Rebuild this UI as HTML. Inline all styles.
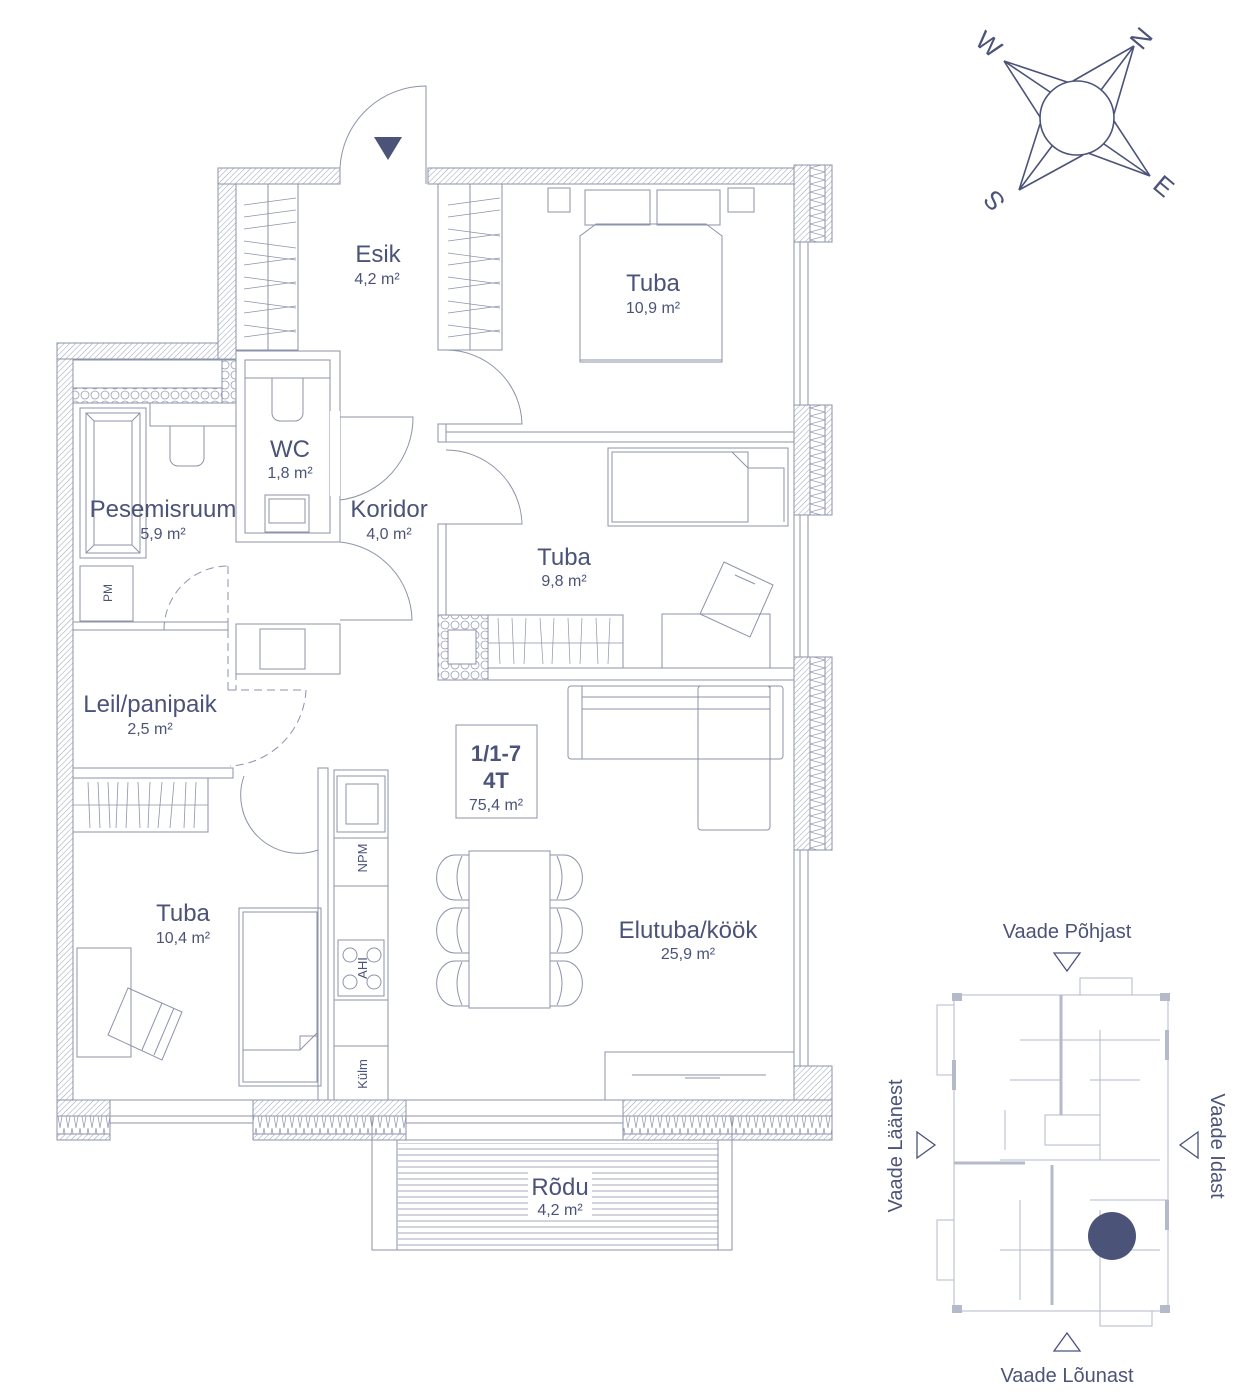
<!DOCTYPE html>
<html><head><meta charset="utf-8"><style>
html,body{margin:0;padding:0;background:#fff}
svg{display:block}
text{font-family:"Liberation Sans",sans-serif;fill:#4b5379}
</style></head><body>
<svg width="1246" height="1400" viewBox="0 0 1246 1400" xmlns="http://www.w3.org/2000/svg">
<defs>
<pattern id="h" width="4" height="4" patternUnits="userSpaceOnUse" patternTransform="rotate(45)">
<rect width="4" height="4" fill="#fff"/><line x1="0" y1="0" x2="0" y2="4" stroke="#9aa0b6" stroke-width="1"/></pattern>
<pattern id="z" width="8" height="24" patternUnits="userSpaceOnUse">
<rect width="8" height="24" fill="#fff"/><path d="M0 0L4 24L8 0" fill="none" stroke="#9aa0b6" stroke-width="0.8"/></pattern>
<pattern id="zv" width="15" height="8" patternUnits="userSpaceOnUse" x="810">
<rect width="15" height="8" fill="#fff"/><path d="M0 0L15 4L0 8" fill="none" stroke="#9aa0b6" stroke-width="0.8"/></pattern>
<pattern id="st" width="10" height="10" patternUnits="userSpaceOnUse">
<rect width="10" height="10" fill="#fff"/><circle cx="5" cy="5" r="4" fill="none" stroke="#9aa0b6" stroke-width="0.8"/></pattern>
<pattern id="rl" width="10" height="6" patternUnits="userSpaceOnUse">
<line x1="0" y1="3" x2="10" y2="3" stroke="#8d93aa" stroke-width="0.8"/></pattern>
</defs>
<g fill="none" stroke="#8d93aa" stroke-width="1">
<rect x="57" y="343" width="16" height="773" fill="url(#h)"/>
<rect x="57" y="343" width="179" height="16" fill="url(#h)"/>
<rect x="218" y="168" width="18" height="191" fill="url(#h)"/>
<rect x="218" y="168" width="122" height="16" fill="url(#h)"/>
<rect x="428" y="168" width="380" height="16" fill="url(#h)"/>
<rect x="794" y="184" width="14" height="916"/>
<line x1="800" y1="184" x2="800" y2="1100"/>
<rect x="794" y="165" width="38" height="77" fill="url(#h)"/>
<rect x="810" y="165" width="15" height="77" fill="url(#zv)"/>
<rect x="794" y="405" width="38" height="110" fill="url(#h)"/>
<rect x="810" y="405" width="15" height="110" fill="url(#zv)"/>
<rect x="794" y="657" width="38" height="193" fill="url(#h)"/>
<rect x="810" y="657" width="15" height="193" fill="url(#zv)"/>
<rect x="794" y="1066" width="38" height="74" fill="url(#h)"/>
<rect x="57" y="1100" width="775" height="16"/>
<line x1="57" y1="1123" x2="832" y2="1123"/>
<rect x="57" y="1100" width="53" height="40" fill="url(#h)"/>
<rect x="253" y="1100" width="153" height="40" fill="url(#h)"/>
<rect x="253" y="1116" width="153" height="18" fill="url(#z)"/>
<rect x="623" y="1100" width="209" height="40" fill="url(#h)"/>
<rect x="623" y="1116" width="209" height="18" fill="url(#z)"/>
<rect x="57" y="1116" width="53" height="18" fill="url(#z)"/>
<rect x="73" y="360" width="149" height="28"/>
<rect x="73" y="388" width="163" height="15" fill="url(#st)"/>
<rect x="222" y="360" width="14" height="43" fill="url(#st)"/>
<rect x="236" y="351" width="104" height="191"/>
<rect x="245" y="360" width="85" height="173"/>
<rect x="245" y="360" width="85" height="18"/>
<path d="M272 378V413a8 8 0 0 0 8 8h15a8 8 0 0 0 8-8V378"/>
<rect x="265" y="495" width="44" height="37"/><rect x="269" y="499" width="36" height="24"/>
<rect x="330" y="411" width="10" height="85" fill="#fff" stroke="none"/>
<path d="M340 417H413A83 83 0 0 1 340 500"/>
<rect x="80" y="408" width="66" height="150"/><rect x="86" y="413" width="54" height="140"/>
<path d="M86 413L94 421H132L140 413M86 553L94 545H132L140 553M94 421V545M132 421V545"/>
<rect x="150" y="403" width="86" height="23"/>
<path d="M170 426V458a8 8 0 0 0 8 8h18a8 8 0 0 0 8-8V426"/>
<rect x="80" y="566" width="53" height="55"/>
<rect x="73" y="622" width="155" height="8"/>
<path d="M164 630A64 64 0 0 1 228 566" stroke-dasharray="8 5"/>
<line x1="228" y1="566" x2="228" y2="630" stroke-dasharray="8 5"/>
<rect x="236" y="624" width="104" height="50"/><rect x="260" y="629" width="45" height="40"/>
<path d="M340 542A80 80 0 0 1 412 620H340"/>
<path d="M228 630V690H236V674M228 690H306A80 80 0 0 1 230 766" stroke-dasharray="8 5"/>
<rect x="73" y="768" width="160" height="10"/>
<rect x="73" y="778" width="135" height="54"/>
<g stroke-width="0.8"><path d="M88 782L90 828M98 782L100 828M108 782L110 828M118 782L116 828M128 782L126 828M138 782L140 828M150 782L148 828M162 782L158 828M174 782L170 828M186 782L184 828M196 782L194 828M73 805H208"/></g>
<path d="M244 776A58 58 0 0 0 318 850V770"/>
<rect x="77" y="948" width="54" height="109"/>
<path d="M128 988L182 1012L162 1060L108 1035Z M162 1003L142 1050M174 1008L154 1055"/>
<rect x="239" y="908" width="82" height="178"/><rect x="243" y="912" width="74" height="170"/>
<path d="M243 1050H300L317 1033M300 1050V1036H317"/>
<rect x="318" y="768" width="10" height="332"/>
<rect x="334" y="770" width="54" height="330"/>
<rect x="337" y="776" width="48" height="56"/><rect x="346" y="784" width="32" height="40"/>
<line x1="334" y1="838" x2="388" y2="838"/><line x1="334" y1="886" x2="388" y2="886"/>
<rect x="338" y="940" width="46" height="56"/>
<circle cx="350" cy="955" r="7"/><circle cx="374" cy="955" r="7"/><circle cx="350" cy="982" r="7"/><circle cx="374" cy="982" r="7"/>
<line x1="334" y1="1000" x2="388" y2="1000"/><line x1="334" y1="1046" x2="388" y2="1046"/>
<rect x="236" y="184" width="62" height="166"/><line x1="268" y1="184" x2="268" y2="350"/>
<g stroke-width="0.7">
<path d="M244 205L296 198M244 217L296 210M244 229L296 222M244 241L296 248M244 253L296 260M244 265L296 258M244 277L296 284M244 289L296 282M244 301L296 308M244 313L296 306M244 325L296 332M244 337L296 330"/>
<path d="M448 205L500 198M448 217L500 210M448 229L500 236M448 241L500 234M448 253L500 260M448 265L500 258M448 277L500 284M448 289L500 282M448 301L500 308M448 313L500 306M448 325L500 332M448 337L500 330"/>
</g>
<rect x="438" y="184" width="64" height="166"/><line x1="470" y1="184" x2="470" y2="350"/>
<path d="M340 184V168A86 86 0 0 1 426 86V184"/>
<path d="M446 350A76 76 0 0 1 522 424H446"/>
<rect x="438" y="424" width="8" height="18"/>
<rect x="446" y="432" width="348" height="10"/>
<path d="M446 450A76 76 0 0 1 522 524H446"/>
<rect x="438" y="524" width="8" height="156"/>
<rect x="438" y="668" width="356" height="12"/>
<rect x="548" y="188" width="22" height="24"/><rect x="728" y="188" width="26" height="24"/>
<rect x="585" y="190" width="65" height="35"/><rect x="657" y="190" width="63" height="35"/>
<path d="M580 362V236L596 224H706L722 236V362Z M580 360H722"/>
<rect x="608" y="448" width="180" height="78"/><rect x="612" y="452" width="136" height="70"/>
<path d="M732 452L748 468V522M748 468H784V522"/>
<rect x="438" y="615" width="185" height="53"/>
<rect x="438" y="615" width="50" height="65" fill="url(#st)"/><rect x="448" y="630" width="28" height="34" fill="#fff"/>
<g stroke-width="0.7"><path d="M498 618L500 664M512 618L514 664M526 618L524 664M540 618L543 664M554 618L552 664M568 618L570 664M582 618L580 664M596 618L598 664M610 618L608 664M488 643H623"/></g>
<rect x="662" y="614" width="108" height="54"/>
<path d="M724 562L773 585L750 637L700 614Z M735 575L755 584"/>
<rect x="568" y="686" width="215" height="73" rx="3"/>
<line x1="582" y1="686" x2="582" y2="759"/><line x1="770" y1="686" x2="770" y2="759"/>
<line x1="582" y1="697" x2="770" y2="697"/><line x1="582" y1="709" x2="770" y2="709"/>
<rect x="698" y="686" width="72" height="144" rx="3"/>
<rect x="456" y="725" width="81" height="93"/>
<rect x="469" y="851" width="81" height="157"/>
<g id="ch"><path d="M469 855H455a18 22 0 0 0 0 45H469M462 856Q452 877 462 899"/></g>
<use href="#ch" y="53"/><use href="#ch" y="106"/>
<g transform="translate(1019 0) scale(-1 1)"><use href="#ch"/><use href="#ch" y="53"/><use href="#ch" y="106"/></g>
<rect x="605" y="1052" width="189" height="48"/>
<path d="M632 1075H766M685 1078H720"/>
<path d="M372 1116V1250H732V1116M397 1140V1250M718 1140V1250M397 1140H718"/>
<rect x="398" y="1143" width="320" height="106" fill="url(#rl)" stroke="none"/>
<rect x="528" y="1172" width="64" height="46" fill="#fff" stroke="none"/>
</g>
<path d="M374 137H402L388 160Z" fill="#4b5379"/>
<g text-anchor="middle">
<text x="378" y="262" font-size="24">Esik</text><text x="377" y="284" font-size="16">4,2 m²</text>
<text x="653" y="291" font-size="24">Tuba</text><text x="653" y="313" font-size="16">10,9 m²</text>
<text x="290" y="457" font-size="24">WC</text><text x="290" y="478" font-size="16">1,8 m²</text>
<text x="163" y="517" font-size="24">Pesemisruum</text><text x="163" y="539" font-size="16">5,9 m²</text>
<text x="389" y="517" font-size="24">Koridor</text><text x="389" y="539" font-size="16">4,0 m²</text>
<text x="564" y="565" font-size="24">Tuba</text><text x="564" y="586" font-size="16">9,8 m²</text>
<text x="150" y="712" font-size="24">Leil/panipaik</text><text x="150" y="734" font-size="16">2,5 m²</text>
<text x="496" y="761" font-size="22" font-weight="bold">1/1-7</text>
<text x="496" y="788" font-size="22" font-weight="bold">4T</text>
<text x="496" y="810" font-size="16">75,4 m²</text>
<text x="183" y="921" font-size="24">Tuba</text><text x="183" y="943" font-size="16">10,4 m²</text>
<text x="688" y="938" font-size="24">Elutuba/köök</text><text x="688" y="959" font-size="16">25,9 m²</text>
<text x="560" y="1195" font-size="24">Rõdu</text><text x="560" y="1215" font-size="16">4,2 m²</text>
</g>
<text transform="translate(112 593) rotate(-90)" text-anchor="middle" font-size="12">PM</text>
<text transform="translate(367 858) rotate(-90)" text-anchor="middle" font-size="13">NPM</text>
<text transform="translate(367 968) rotate(-90)" text-anchor="middle" font-size="13">AHI</text>
<text transform="translate(367 1074) rotate(-90)" text-anchor="middle" font-size="13">Külm</text>
<g fill="none" stroke="#4b5379" stroke-width="1.6">
<circle cx="1077" cy="118" r="37"/>
<path d="M1134 46L1073 81M1134 46L1101 90M1134 46L1114 114M1004 61L1067 82M1004 61L1050 92M1004 61L1040 117M1019 190L1040 124M1019 190L1052 146M1019 190L1083 155M1150 176L1114 121M1150 176L1104 144M1150 176L1088 153"/>
</g>
<g font-size="26" fill="#4b5379" text-anchor="middle">
<text transform="translate(1148 44) rotate(-50)">N</text>
<text transform="translate(983 51) rotate(40)">W</text>
<text transform="translate(1001 195) rotate(-130)">S</text>
<text transform="translate(1158 193) rotate(40)">E</text>
</g>
<g fill="none" stroke="#b5bacb" stroke-width="1">
<rect x="954" y="995" width="214" height="316"/>
<line x1="1061" y1="995" x2="1061" y2="1115" stroke-width="3"/>
<line x1="1052" y1="1165" x2="1052" y2="1305" stroke-width="3"/>
<line x1="954" y1="1163" x2="1025" y2="1163" stroke-width="3"/>
<rect x="1080" y="978" width="52" height="17"/>
<rect x="937" y="1005" width="17" height="70"/><rect x="937" y="1220" width="17" height="60"/>
<rect x="1100" y="1311" width="52" height="15"/>
<rect x="1045" y="1115" width="55" height="30"/>
<path d="M1000 1160H1160M1020 1040H1160M1100 1030V1160M1010 1080H1060M1090 1080H1140M1000 1250H1160M1090 1200H1168M1020 1200V1300M1100 1210V1311M1005 1110V1150"/>
</g>
<g fill="#b5bacb"><rect x="952" y="993" width="10" height="8"/><rect x="1160" y="993" width="10" height="8"/><rect x="952" y="1305" width="10" height="8"/><rect x="1160" y="1305" width="10" height="8"/>
<rect x="1165" y="1030" width="4" height="30"/><rect x="1165" y="1200" width="4" height="30"/><rect x="952" y="1060" width="4" height="30"/></g>
<circle cx="1112" cy="1236" r="24" fill="#4b5379"/>
<g fill="none" stroke="#4b5379" stroke-width="1.3">
<path d="M1054 953H1080L1067 971Z"/><path d="M1054 1351H1080L1067 1333Z"/>
<path d="M917 1132V1158L935 1145Z"/><path d="M1198 1132V1158L1180 1145Z"/>
</g>
<g font-size="20" fill="#5a6283" text-anchor="middle">
<text x="1067" y="938">Vaade Põhjast</text>
<text x="1067" y="1382">Vaade Lõunast</text>
<text transform="translate(902 1146) rotate(-90)">Vaade Läänest</text>
<text transform="translate(1211 1146) rotate(90)">Vaade Idast</text>
</g>
</svg>
</body></html>
